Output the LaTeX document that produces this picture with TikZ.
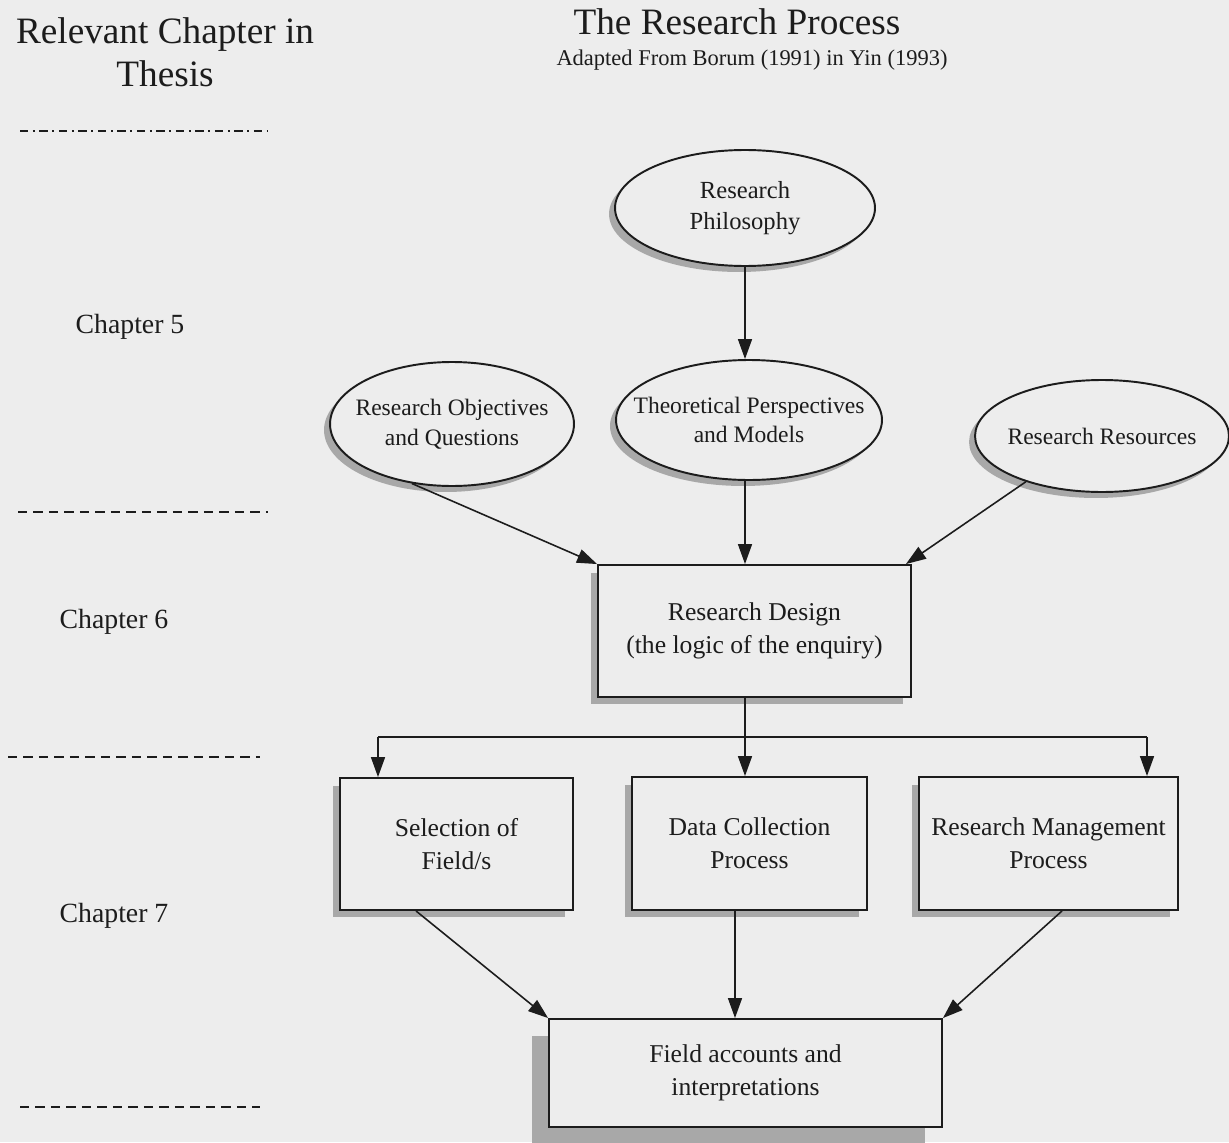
\documentclass[tikz,border=0pt]{standalone}
\usepackage{fontspec}
\setmainfont{Liberation Serif}
\usetikzlibrary{arrows.meta,shapes.geometric,shadows}
\definecolor{paper}{RGB}{237,237,237}
\definecolor{shade}{RGB}{168,168,168}
\definecolor{ink}{RGB}{28,28,28}

\begin{document}
\begin{tikzpicture}[x=0.02cm,y=-0.02cm,
  oval/.style={ellipse, draw=ink, line width=1.1pt, fill=paper, inner sep=0pt,
    drop shadow={shadow xshift=-0.12cm, shadow yshift=-0.12cm, fill=shade, opacity=1}},
  ovaltext/.style={align=center, text=ink, font=\fontsize{13.4}{17}\selectfont},
  panel/.style={rectangle, draw=ink, line width=1.1pt, fill=paper, inner sep=0pt,
    align=center, text=ink, font=\fontsize{14.6}{18.6}\selectfont,
    drop shadow={shadow xshift=#1, shadow yshift=#1, fill=shade, opacity=1}},
  panel/.default=-0.15cm,
  flow/.style={draw=ink, line width=0.9pt, -{Triangle[length=0.4cm,width=0.28cm]}},
  link/.style={draw=ink, line width=0.9pt},
  rule/.style={draw=ink, line width=0.9pt, dash pattern=on 0.19cm off 0.12cm},
  ruledot/.style={draw=ink, line width=0.9pt, dash pattern=on 0.17cm off 0.09cm on 0.04cm off 0.09cm},
  heading/.style={text=ink, align=center, font=\fontsize{21.2}{24.4}\selectfont},
  chapter/.style={text=ink, font=\fontsize{15.8}{18}\selectfont}]

% page
\fill[paper] (0,0) rectangle (1229,1142);
\useasboundingbox (0,0) rectangle (1229,1142);

% left column: chapter bands
\node[heading] (colhead) at (165,52) {Relevant Chapter in\\Thesis};
\draw[ruledot] (20,131) -- (268,131);
\node[chapter] (ch5) at (130,327) {Chapter 5};
\draw[rule] (18,512) -- (268,512);
\node[chapter] (ch6) at (114,622) {Chapter 6};
\draw[rule] (8,757) -- (260,757);
\node[chapter] (ch7) at (114,916) {Chapter 7};
\draw[rule] (20,1107) -- (260,1107);

% title
\node[heading] (title) at (737,22) {The Research Process};
\node[text=ink, font=\fontsize{12.8}{15}\selectfont] (source) at (752,60)
  {Adapted From Borum (1991) in Yin (1993)};

% ellipses (fixed size; the wording sits inside as a centred label)
\node[oval, minimum width=5.2cm, minimum height=2.32cm,
  label={[ovaltext, font=\fontsize{14}{17.6}\selectfont]center:Research\\Philosophy}]
  (phil) at (745,208) {};
\node[oval, minimum width=4.88cm, minimum height=2.48cm,
  label={[ovaltext]center:Research Objectives\\and Questions}]
  (obj) at (452,424) {};
\node[oval, minimum width=5.32cm, minimum height=2.4cm,
  label={[ovaltext]center:Theoretical Perspectives\\and Models}]
  (theo) at (749,420) {};
\node[oval, minimum width=5.08cm, minimum height=2.24cm,
  label={[ovaltext]center:Research Resources}]
  (res) at (1102,436) {};

% boxes
\node[panel, minimum width=6.26cm, minimum height=2.64cm] (design) at (754.5,631)
  {Research Design\\(the logic of the enquiry)};
\node[panel, minimum width=4.66cm, minimum height=2.64cm] (sel) at (456.5,844)
  {Selection of\\Field/s};
\node[panel, minimum width=4.7cm, minimum height=2.66cm] (data) at (749.5,843.5)
  {Data Collection\\Process};
\node[panel, minimum width=5.18cm, minimum height=2.66cm] (mgmt) at (1048.5,843.5)
  {Research Management\\Process};
\node[panel=-0.34cm, minimum width=7.86cm, minimum height=2.16cm]
  (field) at (745.5,1073) {Field accounts and\\interpretations};

% connectors into the design box
\coordinate (axis) at (745,0);
\draw[flow] (phil.south -| axis) -- (theo.north -| axis);
\draw[flow] (theo.south -| axis) -- (design.north -| axis);
\draw[flow] (obj.236) -- (design.north west);
\draw[flow] (res.211) -- ([xshift=-0.12cm]design.north east);

% branching to the three processes
\coordinate (split) at (745,737);
\coordinate (jl) at (378,737);
\coordinate (jr) at (1147,737);
\draw[link] (design.south -| split) -- (split);
\draw[link] (jl) -- (jr);
\draw[flow] (jl) -- (jl |- sel.north);
\draw[flow] (split) -- (split |- data.north);
\draw[flow] (jr) -- (jr |- mgmt.north);

% processes into the field accounts
\draw[flow] ([xshift=-0.81cm]sel.south) -- (field.north west);
\draw[flow] ([xshift=-0.29cm]data.south) -- ([xshift=-0.29cm]data.south |- field.north);
\draw[flow] ([xshift=0.27cm]mgmt.south) -- (field.north east);
\end{tikzpicture}
\end{document}
